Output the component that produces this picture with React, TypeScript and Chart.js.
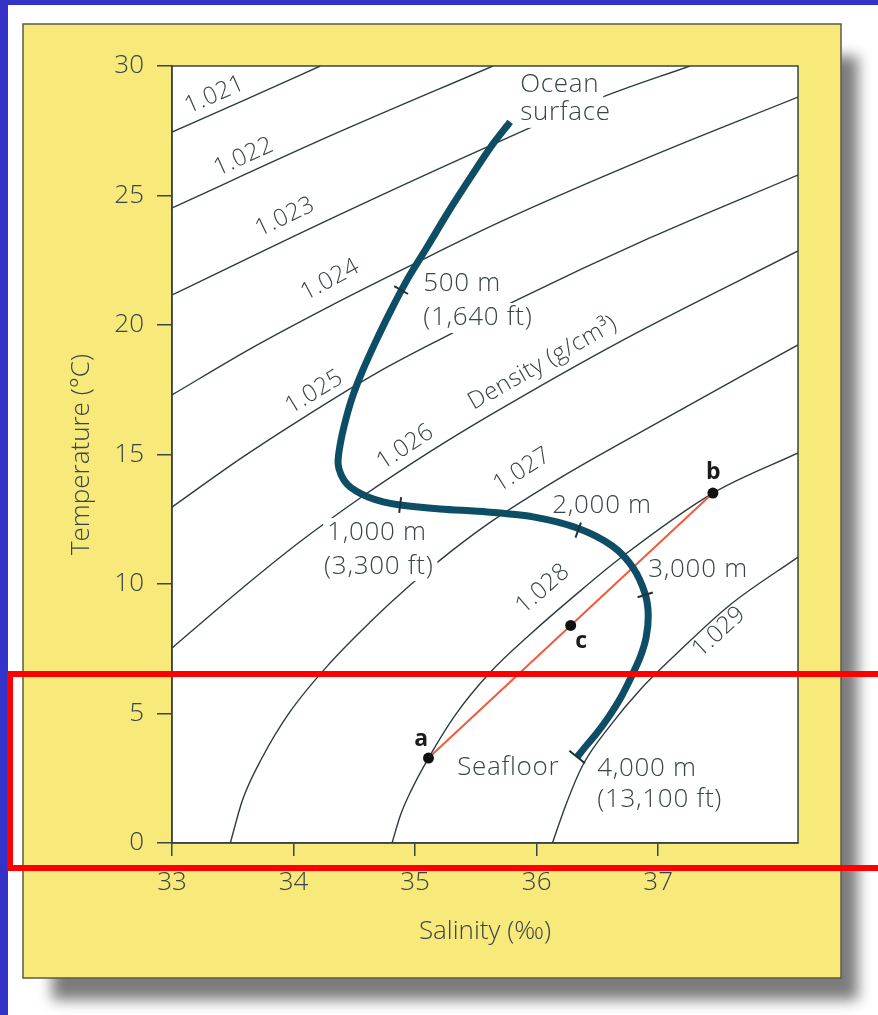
import React, { useEffect, useRef } from 'react';
import { Chart, registerables } from 'chart.js';

Chart.register(...registerables);

// ---- axes ----
const SALINITY_TICKS = [33, 34, 35, 36, 37];
const TEMPERATURE_TICKS = [0, 5, 10, 15, 20, 25, 30];
const SALINITY_MIN = 33;
const SALINITY_MAX = 38.15;

// ---- isopycnals: salinity (‰) and temperature (°C) along each density curve ----
const RHO_1021_S = [33.0, 33.6, 34.22];
const RHO_1021_T = [27.45, 28.69, 30.0];
const RHO_1022_S = [33.0, 34.3, 35.64];
const RHO_1022_T = [24.52, 27.3, 30.0];
const RHO_1023_S = [33.0, 34.3, 35.59, 36.52, 37.26];
const RHO_1023_T = [21.16, 24.09, 26.87, 28.76, 30.0];
const RHO_1024_S = [33.0, 33.64, 34.3, 34.99, 35.7, 36.93, 38.15];
const RHO_1024_T = [17.3, 19.07, 20.73, 22.36, 23.98, 26.49, 28.8];
const RHO_1025_S = [33.0, 33.56, 34.05, 34.7, 35.29, 35.84, 36.93, 38.15];
const RHO_1025_T = [12.97, 14.83, 16.33, 18.19, 19.65, 20.97, 23.36, 25.79];
const RHO_1026_S = [33.0, 33.56, 34.05, 34.56, 35.12, 35.62, 36.71, 38.15];
const RHO_1026_T = [7.53, 9.77, 11.62, 13.36, 15.1, 16.53, 19.42, 22.86];
const RHO_1027_S = [33.48, 33.58, 33.74, 33.97, 34.3, 34.63, 34.96, 35.29, 35.62, 36.19, 36.93, 38.15];
const RHO_1027_T = [0, 1.66, 3.28, 5.06, 6.95, 8.53, 9.96, 11.24, 12.39, 14.09, 16.06, 19.23];
const RHO_1028_S = [34.81, 34.88, 34.97, 35.11, 35.33, 35.62, 35.95, 36.32, 36.71, 37.45, 38.15];
const RHO_1028_T = [0, 1.08, 2.05, 3.28, 4.94, 6.6, 8.07, 9.58, 11.08, 13.51, 15.06];
const RHO_1029_S = [36.13, 36.24, 36.38, 36.61, 36.85, 37.14, 37.59, 38.15];
const RHO_1029_T = [0, 1.47, 3.01, 4.56, 5.91, 7.26, 9.19, 11.04];

const DENSITY_NAMES = ['1.021', '1.022', '1.023', '1.024', '1.025', '1.026', '1.027', '1.028', '1.029'];
const DENSITY_S = [RHO_1021_S, RHO_1022_S, RHO_1023_S, RHO_1024_S, RHO_1025_S, RHO_1026_S, RHO_1027_S, RHO_1028_S, RHO_1029_S];
const DENSITY_T = [RHO_1021_T, RHO_1022_T, RHO_1023_T, RHO_1024_T, RHO_1025_T, RHO_1026_T, RHO_1027_T, RHO_1028_T, RHO_1029_T];
// where each density value is written (label centre)
const DENSITY_LABEL_S = [33.35, 33.59, 33.93, 34.3, 34.17, 34.92, 35.88, 36.05, 37.5];
const DENSITY_LABEL_T = [28.88, 26.49, 24.17, 21.74, 17.41, 15.29, 14.4, 9.81, 8.15];
const DENSITY_CAPTION = 'Density (g/cm³)';
const DENSITY_CAPTION_S = 36.05;
const DENSITY_CAPTION_T = 18.53;
const DENSITY_CAPTION_CURVE = 5;

// ---- temperature–salinity profile, ocean surface to seafloor ----
const PROFILE_S = [35.782, 35.634, 35.453, 35.272, 35.099, 34.942, 34.794, 34.671, 34.564, 34.481, 34.424, 34.383, 34.366, 34.391, 34.44, 34.514, 34.613, 34.737, 34.877, 35.206, 35.593, 35.971, 36.333, 36.621, 36.794, 36.893, 36.918, 36.901, 36.852, 36.778, 36.695, 36.597, 36.49, 36.407, 36.333];
const PROFILE_T = [27.84, 26.95, 25.68, 24.36, 23.01, 21.81, 20.5, 19.31, 18.19, 17.18, 16.25, 15.37, 14.67, 14.21, 13.86, 13.59, 13.36, 13.17, 13.05, 12.9, 12.78, 12.59, 12.16, 11.47, 10.62, 9.61, 8.8, 7.95, 7.18, 6.41, 5.64, 4.9, 4.21, 3.75, 3.32];

// depth ticks along the profile (500 m, 1,000 m, 2,000 m, 3,000 m)
const DEPTH_S = [34.885, 34.877, 36.342, 36.893];
const DEPTH_T = [21.35, 13.05, 12.08, 9.58];

// depth captions: text, left edge salinity, centre temperature
const NOTE_TEXT = ['Ocean', 'surface', '500 m', '(1,640 ft)', '1,000 m', '(3,300 ft)', '2,000 m', '3,000 m', 'Seafloor', '4,000 m', '(13,100 ft)'];
const NOTE_S = [35.864, 35.864, 35.066, 35.066, 34.276, 34.251, 36.128, 36.918, 35.346, 36.498, 36.498];
const NOTE_T = [29.3, 28.19, 21.58, 20.27, 11.97, 10.69, 13.01, 10.54, 2.9, 2.86, 1.66];

// water masses a and b, and their mixture c
const WATER_NAMES = ['a', 'b', 'c'];
const WATER_S = [35.11, 37.45, 36.28];
const WATER_T = [3.28, 13.51, 8.4];
const WATER_NAME_S = [35.05, 37.453, 36.366];
const WATER_NAME_T = [3.98, 14.32, 7.8];

// ---- styling ----
const FONT = "'Open Sans', 'Liberation Sans', Arial, sans-serif";
const TEXT = '#384446';
const AXIS = '#3a4544';
const ISO = '#2c3c40';
const PROFILE = '#0e4d66';
const MIX = '#ef5b3b';
const PAGE_BLUE = '#3333c8';
const PANEL = '#f8e97b';

const pairs = (s: number[], t: number[]) => s.map((v, i) => ({ x: v, y: t[i] }));

const toPx = (chart: any, s: number, t: number) => [
  chart.scales.x.getPixelForValue(s),
  chart.scales.y.getPixelForValue(t),
];

function curveAngle(chart: any, sArr: number[], tArr: number[], x: number) {
  const pts = sArr.map((s, i) => toPx(chart, s, tArr[i]));
  let j = 0;
  while (j < pts.length - 2 && pts[j + 1][0] < x) j++;
  const [x1, y1] = pts[j];
  const [x2, y2] = pts[j + 1];
  return Math.atan2(y2 - y1, x2 - x1);
}

const backdrop = {
  id: 'backdrop',
  beforeDraw(chart: any) {
    const { ctx, chartArea: a } = chart;
    ctx.save();
    ctx.fillStyle = PAGE_BLUE;
    ctx.fillRect(0, 0, 878, 1015);
    ctx.fillStyle = '#ffffff';
    ctx.fillRect(8, 5, 870, 1010);
    ctx.filter = 'blur(7px)';
    ctx.fillStyle = '#7c7c7c';
    ctx.fillRect(52, 56, 806, 944);
    ctx.filter = 'none';
    ctx.fillStyle = PANEL;
    ctx.fillRect(23, 24, 818, 954);
    ctx.strokeStyle = '#5b5a48';
    ctx.lineWidth = 1.5;
    ctx.strokeRect(23, 24, 818, 954);
    ctx.fillStyle = '#ffffff';
    ctx.fillRect(a.left, a.top, a.right - a.left, a.bottom - a.top);
    ctx.restore();
  },
  beforeDatasetsDraw(chart: any) {
    const { ctx, chartArea: a } = chart;
    ctx.save();
    ctx.strokeStyle = AXIS;
    ctx.lineWidth = 1.5;
    ctx.strokeRect(a.left, a.top, a.right - a.left, a.bottom - a.top);
    ctx.restore();
  },
  beforeDatasetDraw(chart: any, args: any) {
    if (chart.data.datasets[args.index].label !== 'mixing') return;
    // clear isopycnals behind the depth captions
    const { ctx } = chart;
    ctx.save();
    ctx.font = `300 26px ${FONT}`;
    ctx.letterSpacing = '0.7px';
    ctx.fillStyle = '#ffffff';
    NOTE_TEXT.forEach((txt, i) => {
      const [x, y] = toPx(chart, NOTE_S[i], NOTE_T[i]);
      const w = ctx.measureText(txt).width;
      ctx.fillRect(x - 4, y - 15, w + 8, 30);
    });
    ctx.restore();
  },
  afterDatasetsDraw(chart: any) {
    const { ctx } = chart;
    ctx.save();

    // density values along the isopycnals
    ctx.fillStyle = TEXT;
    ctx.textAlign = 'center';
    ctx.textBaseline = 'middle';
    ctx.font = `300 24px ${FONT}`;
    ctx.letterSpacing = '0.4px';
    DENSITY_NAMES.forEach((name, i) => {
      const [x, y] = toPx(chart, DENSITY_LABEL_S[i], DENSITY_LABEL_T[i]);
      const ang = curveAngle(chart, DENSITY_S[i], DENSITY_T[i], x);
      ctx.save();
      ctx.translate(x, y);
      ctx.rotate(ang);
      ctx.fillText(name, 0, 0);
      ctx.restore();
    });
    {
      const [x, y] = toPx(chart, DENSITY_CAPTION_S, DENSITY_CAPTION_T);
      const ang = curveAngle(chart, DENSITY_S[DENSITY_CAPTION_CURVE], DENSITY_T[DENSITY_CAPTION_CURVE], x);
      ctx.save();
      ctx.translate(x, y);
      ctx.rotate(ang);
      ctx.fillText(DENSITY_CAPTION, 0, 0);
      ctx.restore();
    }

    // depth captions
    ctx.textAlign = 'left';
    ctx.font = `300 26px ${FONT}`;
    ctx.letterSpacing = '0.7px';
    NOTE_TEXT.forEach((txt, i) => {
      const [x, y] = toPx(chart, NOTE_S[i], NOTE_T[i]);
      ctx.fillText(txt, x, y);
    });
    ctx.letterSpacing = '0px';

    // depth ticks across the profile
    const prof = PROFILE_S.map((s, i) => toPx(chart, s, PROFILE_T[i]));
    ctx.strokeStyle = '#1f3236';
    ctx.lineWidth = 2;
    DEPTH_S.forEach((s, i) => {
      const [x, y] = toPx(chart, s, DEPTH_T[i]);
      let best = 0;
      let bd = Infinity;
      prof.forEach(([px, py], k) => {
        const d = (px - x) ** 2 + (py - y) ** 2;
        if (d < bd) { bd = d; best = k; }
      });
      const k0 = Math.max(0, best - 1);
      const k1 = Math.min(prof.length - 1, best + 1);
      const dx = prof[k1][0] - prof[k0][0];
      const dy = prof[k1][1] - prof[k0][1];
      const len = Math.hypot(dx, dy) || 1;
      const nx = -dy / len;
      const ny = dx / len;
      ctx.beginPath();
      ctx.moveTo(x - nx * 8, y - ny * 8);
      ctx.lineTo(x + nx * 8, y + ny * 8);
      ctx.stroke();
    });
    // seafloor end cap
    {
      const n = prof.length;
      const [x, y] = prof[n - 1];
      const dx = prof[n - 1][0] - prof[n - 2][0];
      const dy = prof[n - 1][1] - prof[n - 2][1];
      const len = Math.hypot(dx, dy) || 1;
      const nx = -dy / len;
      const ny = dx / len;
      ctx.beginPath();
      ctx.moveTo(x - nx * 10, y - ny * 10);
      ctx.lineTo(x + nx * 10, y + ny * 10);
      ctx.stroke();
    }

    // water mass letters
    ctx.fillStyle = '#1b1b1b';
    ctx.textAlign = 'center';
    ctx.font = `bold 23px ${FONT}`;
    WATER_NAMES.forEach((name, i) => {
      const [x, y] = toPx(chart, WATER_NAME_S[i], WATER_NAME_T[i]);
      ctx.fillText(name, x, y);
    });
    ctx.restore();
  },
  afterDraw(chart: any) {
    const { ctx } = chart;
    ctx.save();
    ctx.strokeStyle = '#ff0000';
    ctx.lineWidth = 6;
    ctx.strokeRect(10, 674, 890, 194);
    ctx.restore();
  },
};

export default function App() {
  const ref = useRef<HTMLCanvasElement | null>(null);

  useEffect(() => {
    if (!ref.current) return;
    const isoSets = DENSITY_NAMES.map((name, i) => ({
      label: name,
      data: pairs(DENSITY_S[i], DENSITY_T[i]),
      borderColor: ISO,
      borderWidth: 1.4,
      pointRadius: 0,
      cubicInterpolationMode: 'monotone' as const,
      order: 10,
    }));
    const axisFont = { family: FONT, size: 26, weight: '300' };
    const chart = new Chart(ref.current, {
      type: 'line',
      data: {
        datasets: [
          ...isoSets,
          {
            label: 'mixing',
            data: [
              { x: WATER_S[0], y: WATER_T[0] },
              { x: WATER_S[1], y: WATER_T[1] },
            ],
            borderColor: MIX,
            borderWidth: 2,
            pointRadius: 0,
            tension: 0,
            order: 4,
          },
          {
            label: 'profile',
            data: pairs(PROFILE_S, PROFILE_T),
            borderColor: PROFILE,
            borderWidth: 7,
            borderCapStyle: 'butt',
            pointRadius: 0,
            tension: 0.3,
            order: 3,
          },
          {
            label: 'water masses',
            data: pairs(WATER_S, WATER_T),
            showLine: false,
            pointRadius: 5.5,
            pointBackgroundColor: '#111111',
            pointBorderColor: '#111111',
            pointBorderWidth: 0,
            order: 1,
          },
        ],
      },
      options: {
        animation: false,
        responsive: false,
        devicePixelRatio: 1,
        events: [],
        layout: { padding: { left: 0, top: 66, right: 80, bottom: 0 } },
        plugins: { legend: { display: false }, tooltip: { enabled: false } },
        scales: {
          x: {
            type: 'linear',
            min: SALINITY_MIN,
            max: SALINITY_MAX,
            afterFit: (s: any) => { s.height = 172; },
            afterBuildTicks: (s: any) => { s.ticks = SALINITY_TICKS.map((v) => ({ value: v })); },
            grid: { drawOnChartArea: false, drawTicks: true, tickLength: 13, color: AXIS, lineWidth: 1.5 },
            border: { display: true, color: AXIS, width: 1.5 },
            ticks: { padding: 11, color: TEXT, font: axisFont },
            title: {
              display: true,
              text: 'Salinity (‰)',
              color: TEXT,
              font: axisFont,
              padding: { top: 0, bottom: 68 },
            },
          },
          y: {
            type: 'linear',
            min: 0,
            max: 30,
            afterFit: (s: any) => { s.width = 172; },
            afterBuildTicks: (s: any) => { s.ticks = TEMPERATURE_TICKS.map((v) => ({ value: v })); },
            grid: { drawOnChartArea: false, drawTicks: true, tickLength: 15, color: AXIS, lineWidth: 1.5 },
            border: { display: true, color: AXIS, width: 1.5 },
            ticks: { padding: 13, color: TEXT, font: axisFont },
            title: {
              display: true,
              text: 'Temperature (°C)',
              color: TEXT,
              font: axisFont,
              padding: { top: 66, bottom: 0 },
            },
          },
        },
      },
      plugins: [backdrop],
    } as any);
    return () => chart.destroy();
  }, []);

  return (
    <div style={{ position: 'absolute', left: 0, top: 0, width: 878, height: 1015 }}>
      <canvas ref={ref} width={878} height={1015} style={{ display: 'block' }} />
    </div>
  );
}
